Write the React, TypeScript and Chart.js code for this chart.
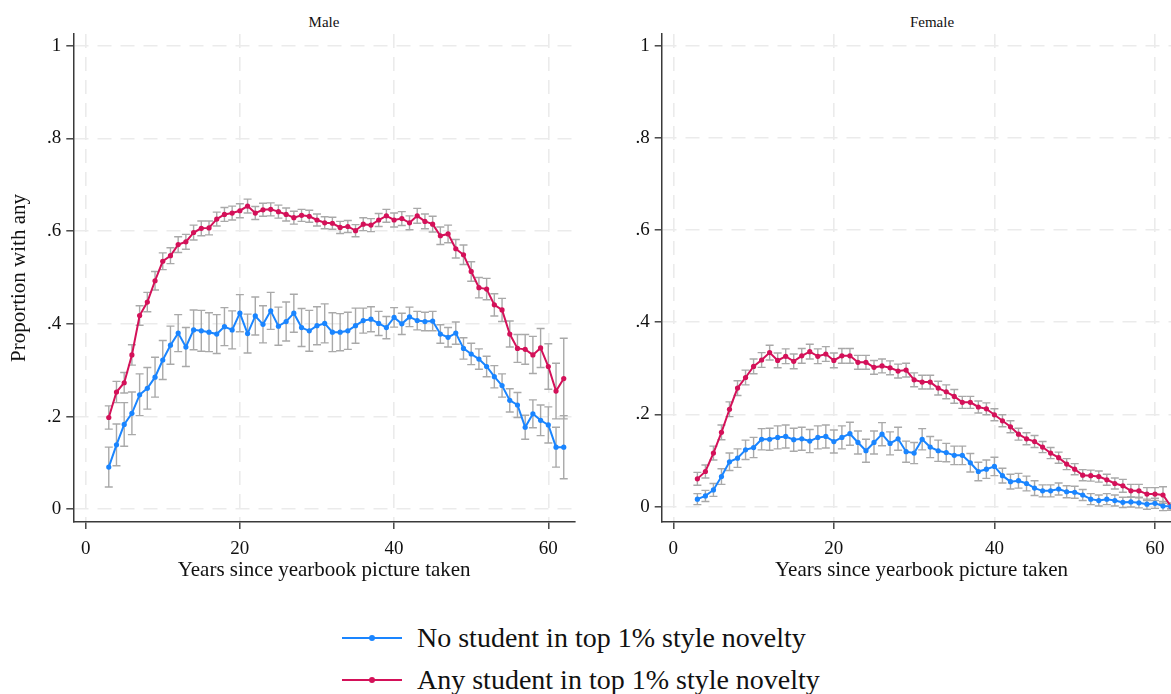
import React, { useEffect, useRef } from "react";
import { Chart, registerables } from "chart.js";

Chart.register(...registerables);

// Years since the yearbook picture was taken (x values shared by both panels)
const years = [
  3, 4, 5, 6, 7, 8, 9, 10, 11, 12, 13, 14, 15, 16, 17, 18, 19, 20, 21, 22,
  23, 24, 25, 26, 27, 28, 29, 30, 31, 32, 33, 34, 35, 36, 37, 38, 39, 40, 41, 42,
  43, 44, 45, 46, 47, 48, 49, 50, 51, 52, 53, 54, 55, 56, 57, 58, 59, 60, 61, 62,
];

// Male: no student in top 1% style novelty
const maleNo = [
  0.091, 0.139, 0.183, 0.207, 0.247, 0.261, 0.285, 0.322, 0.354, 0.38,
  0.35, 0.387, 0.385, 0.382, 0.378, 0.394, 0.387, 0.423, 0.379, 0.417,
  0.399, 0.428, 0.395, 0.405, 0.423, 0.392, 0.385, 0.396, 0.401, 0.382,
  0.382, 0.385, 0.396, 0.407, 0.41, 0.401, 0.392, 0.414, 0.4, 0.415,
  0.407, 0.405, 0.406, 0.378, 0.371, 0.38, 0.347, 0.335, 0.324, 0.308,
  0.286, 0.267, 0.235, 0.225, 0.177, 0.206, 0.192, 0.182, 0.134, 0.134,
];
const maleNoCI = [
  0.043, 0.045, 0.047, 0.046, 0.045, 0.045, 0.043, 0.042, 0.041, 0.04,
  0.042, 0.043, 0.044, 0.042, 0.042, 0.041, 0.041, 0.04, 0.042, 0.041,
  0.04, 0.04, 0.041, 0.042, 0.041, 0.041, 0.044, 0.041, 0.042, 0.042,
  0.04, 0.04, 0.038, 0.027, 0.027, 0.026, 0.024, 0.021, 0.023, 0.021,
  0.02, 0.02, 0.021, 0.02, 0.021, 0.024, 0.023, 0.023, 0.022, 0.022,
  0.024, 0.025, 0.025, 0.027, 0.026, 0.03, 0.033, 0.039, 0.043, 0.068,
];

// Male: any student in top 1% style novelty
const maleAny = [
  0.198, 0.253, 0.273, 0.333, 0.418, 0.447, 0.493, 0.535, 0.547, 0.571,
  0.577, 0.597, 0.606, 0.607, 0.626, 0.636, 0.639, 0.644, 0.654, 0.639,
  0.646, 0.647, 0.642, 0.636, 0.629, 0.634, 0.632, 0.624, 0.618, 0.617,
  0.608, 0.61, 0.601, 0.615, 0.613, 0.624, 0.633, 0.624, 0.627, 0.618,
  0.633, 0.621, 0.615, 0.59, 0.594, 0.562, 0.549, 0.513, 0.478, 0.475,
  0.441, 0.43, 0.378, 0.347, 0.345, 0.333, 0.348, 0.308, 0.255, 0.282,
];
const maleAnyCI = [
  0.025, 0.023, 0.022, 0.022, 0.021, 0.021, 0.02, 0.018, 0.017, 0.017,
  0.016, 0.016, 0.016, 0.015, 0.015, 0.015, 0.015, 0.015, 0.015, 0.014,
  0.014, 0.014, 0.014, 0.014, 0.014, 0.013, 0.013, 0.013, 0.013, 0.013,
  0.013, 0.013, 0.013, 0.014, 0.014, 0.014, 0.014, 0.015, 0.015, 0.015,
  0.016, 0.016, 0.017, 0.019, 0.019, 0.02, 0.021, 0.021, 0.022, 0.023,
  0.024, 0.025, 0.028, 0.03, 0.032, 0.04, 0.042, 0.049, 0.06, 0.087,
];

// Female: no student in top 1% style novelty
const femaleNo = [
  0.016, 0.023, 0.036, 0.065, 0.097, 0.105, 0.123, 0.128, 0.146, 0.146,
  0.15, 0.152, 0.145, 0.147, 0.142, 0.15, 0.152, 0.141, 0.15, 0.158,
  0.139, 0.121, 0.139, 0.157, 0.137, 0.147, 0.119, 0.116, 0.146, 0.129,
  0.121, 0.117, 0.111, 0.111, 0.095, 0.076, 0.081, 0.087, 0.067, 0.054,
  0.056, 0.05, 0.04, 0.034, 0.034, 0.038, 0.032, 0.031, 0.025, 0.016,
  0.013, 0.016, 0.013, 0.009, 0.01, 0.008, 0.005, 0.007, 0.001, 0.0,
];
const femaleNoCI = [
  0.012, 0.012, 0.014, 0.017, 0.019, 0.02, 0.021, 0.022, 0.023, 0.024,
  0.025, 0.025, 0.025, 0.025, 0.025, 0.025, 0.025, 0.025, 0.025, 0.025,
  0.025, 0.025, 0.025, 0.025, 0.025, 0.025, 0.023, 0.023, 0.023, 0.023,
  0.023, 0.02, 0.02, 0.02, 0.02, 0.02, 0.02, 0.02, 0.016, 0.016,
  0.016, 0.016, 0.016, 0.013, 0.013, 0.013, 0.013, 0.013, 0.012, 0.012,
  0.012, 0.012, 0.012, 0.011, 0.011, 0.011, 0.011, 0.011, 0.01, 0.008,
];

// Female: any student in top 1% style novelty
const femaleAny = [
  0.06, 0.076, 0.116, 0.161, 0.211, 0.257, 0.28, 0.304, 0.318, 0.334,
  0.317, 0.326, 0.315, 0.327, 0.336, 0.326, 0.331, 0.317, 0.327, 0.327,
  0.313, 0.313, 0.302, 0.305, 0.301, 0.294, 0.296, 0.275, 0.27, 0.27,
  0.257, 0.249, 0.239, 0.226, 0.226, 0.216, 0.212, 0.199, 0.186, 0.173,
  0.157, 0.147, 0.141, 0.129, 0.116, 0.106, 0.092, 0.081, 0.068, 0.067,
  0.065, 0.058, 0.05, 0.045, 0.034, 0.034, 0.027, 0.027, 0.025, 0.0,
];
const femaleAnyCI = [
  0.014, 0.014, 0.015, 0.016, 0.016, 0.016, 0.016, 0.016, 0.016, 0.016,
  0.016, 0.016, 0.016, 0.016, 0.016, 0.016, 0.016, 0.016, 0.016, 0.016,
  0.015, 0.015, 0.015, 0.015, 0.015, 0.015, 0.015, 0.015, 0.015, 0.015,
  0.015, 0.015, 0.015, 0.013, 0.013, 0.013, 0.013, 0.013, 0.013, 0.013,
  0.013, 0.013, 0.013, 0.012, 0.012, 0.012, 0.012, 0.012, 0.012, 0.012,
  0.012, 0.012, 0.012, 0.014, 0.014, 0.014, 0.014, 0.014, 0.018, 0.005,
];

const xTickValues = [0, 20, 40, 60];
const yTickValues = [0, 0.2, 0.4, 0.6, 0.8, 1];
const yTickLabels = ["0", ".2", ".4", ".6", ".8", "1"];

const seriesNames = [
  "No student in top 1% style novelty",
  "Any student in top 1% style novelty",
];

const BLUE = "#1a85ff";
const RED = "#d41159";
const CAP_GRAY = "#a9a9a9";
const GRID = "#ebebeb";
const AXIS = "#3a3a3a";
const FONT = "'Liberation Serif', 'Times New Roman', serif";

// Confidence-interval caps drawn under the lines, positioned through the chart scales
const errorBarPlugin = {
  id: "errorBars",
  beforeDatasetsDraw(chart: any) {
    const { ctx, chartArea } = chart;
    const xs = chart.scales.x;
    const ys = chart.scales.y;
    ctx.save();
    ctx.beginPath();
    ctx.rect(chartArea.left, chartArea.top - 20, chartArea.right - chartArea.left, chartArea.bottom - chartArea.top + 20);
    ctx.clip();
    ctx.strokeStyle = CAP_GRAY;
    ctx.lineWidth = 1.4;
    const cap = 4;
    chart.data.datasets.forEach((ds: any) => {
      ds.data.forEach((pt: any, i: number) => {
        const half = ds.ci[i];
        const px = xs.getPixelForValue(pt.x);
        const lo = ys.getPixelForValue(pt.y - half);
        const hi = ys.getPixelForValue(pt.y + half);
        ctx.beginPath();
        ctx.moveTo(px, lo);
        ctx.lineTo(px, hi);
        ctx.moveTo(px - cap, lo);
        ctx.lineTo(px + cap, lo);
        ctx.moveTo(px - cap, hi);
        ctx.lineTo(px + cap, hi);
        ctx.stroke();
      });
    });
    ctx.restore();
  },
};

type PanelProps = {
  left: number;
  width: number;
  height: number;
  xMin: number;
  xMax: number;
  yMin: number;
  yMax: number;
  yAxisWidth: number;
  padRight: number;
  padTop: number;
  xAxisHeight: number;
  showYTitle: boolean;
  no: number[];
  noCI: number[];
  any: number[];
  anyCI: number[];
};

function Panel(p: PanelProps) {
  const ref = useRef<HTMLCanvasElement | null>(null);

  useEffect(() => {
    if (!ref.current) return;
    const makeSet = (label: string, vals: number[], ci: number[], color: string) => ({
      label,
      data: years.map((yr, i) => ({ x: yr, y: vals[i] })),
      ci,
      borderColor: color,
      backgroundColor: color,
      borderWidth: 2,
      pointRadius: 2.6,
      pointBorderWidth: 0,
      pointBackgroundColor: color,
      tension: 0,
    });

    const chart = new Chart(ref.current, {
      type: "line",
      data: {
        datasets: [
          makeSet(seriesNames[0], p.no, p.noCI, BLUE),
          makeSet(seriesNames[1], p.any, p.anyCI, RED),
        ] as any,
      },
      options: {
        animation: false,
        responsive: false,
        devicePixelRatio: 1,
        layout: { padding: { left: 0, right: p.padRight, top: p.padTop, bottom: 0 } },
        plugins: {
          legend: { display: false },
          tooltip: { enabled: false },
        },
        scales: {
          x: {
            type: "linear",
            min: p.xMin,
            max: p.xMax,
            afterBuildTicks: (s: any) => {
              s.ticks = xTickValues.map((v) => ({ value: v }));
            },
            afterFit: (s: any) => {
              s.height = p.xAxisHeight;
            },
            ticks: {
              color: "#111",
              font: { family: FONT, size: 19 },
              padding: 9,
              maxRotation: 0,
              callback: (v: any) => String(v),
            },
            grid: {
              color: GRID,
              lineWidth: 1.6,
              tickColor: AXIS,
              tickLength: 7,
              tickWidth: 1.4,
              tickBorderDash: [],
            },
            border: { display: true, color: AXIS, width: 1.5, dash: [14, 9] },
            title: {
              display: true,
              text: "Years since yearbook picture taken",
              color: "#111",
              font: { family: FONT, size: 21 },
              padding: { top: 0, bottom: 2 },
            },
          },
          y: {
            type: "linear",
            min: p.yMin,
            max: p.yMax,
            afterBuildTicks: (s: any) => {
              s.ticks = yTickValues.map((v) => ({ value: v }));
            },
            afterFit: (s: any) => {
              s.width = p.yAxisWidth;
            },
            ticks: {
              color: "#111",
              font: { family: FONT, size: 19 },
              padding: 5,
              callback: (v: any) => {
                const k = yTickValues.findIndex((t) => Math.abs(t - v) < 1e-9);
                return k >= 0 ? yTickLabels[k] : "";
              },
            },
            grid: {
              color: GRID,
              lineWidth: 1.6,
              tickColor: AXIS,
              tickLength: 7,
              tickWidth: 1.4,
              tickBorderDash: [],
            },
            border: { display: true, color: AXIS, width: 1.5, dash: [14, 9] },
            title: {
              display: p.showYTitle,
              text: "Proportion with any",
              color: "#111",
              font: { family: FONT, size: 21 },
              padding: { top: 7, bottom: 0 },
            },
          },
        },
      },
      plugins: [errorBarPlugin],
    } as any);

    return () => chart.destroy();
  }, []);

  return (
    <canvas
      ref={ref}
      width={p.width}
      height={p.height}
      style={{ position: "absolute", left: p.left, top: 0, width: p.width, height: p.height }}
    />
  );
}

function LegendRow({ top, color, text }: { top: number; color: string; text: string }) {
  return (
    <div style={{ position: "absolute", left: 342, top, height: 32, display: "flex", alignItems: "center" }}>
      <div style={{ position: "relative", width: 60, height: 32 }}>
        <div style={{ position: "absolute", left: 0, top: 15, width: 60, height: 2, background: color }} />
        <div
          style={{
            position: "absolute",
            left: 27,
            top: 13,
            width: 6,
            height: 6,
            borderRadius: 3,
            background: color,
          }}
        />
      </div>
      <span style={{ marginLeft: 15, fontFamily: FONT, fontSize: 28, color: "#111", whiteSpace: "nowrap", lineHeight: "32px" }}>
        {text}
      </span>
    </div>
  );
}

export default function App() {
  useEffect(() => {
    document.body.style.margin = "0";
    document.body.style.background = "#ffffff";
  }, []);

  const titleStyle = (center: number): React.CSSProperties => ({
    position: "absolute",
    left: center - 60,
    width: 120,
    top: 13,
    textAlign: "center",
    fontFamily: FONT,
    fontSize: 15,
    lineHeight: "18px",
    color: "#111",
  });

  return (
    <div style={{ position: "relative", width: 1171, height: 694, overflow: "hidden", background: "#fff" }}>
      <div style={titleStyle(324)}>Male</div>
      <div style={titleStyle(932)}>Female</div>
      <Panel
        left={0}
        width={590}
        height={585}
        xMin={-1.6}
        xMax={63.46}
        yMin={-0.0274}
        yMax={1.0252}
        yAxisWidth={73.3}
        padRight={15}
        padTop={34}
        xAxisHeight={63}
        showYTitle={true}
        no={maleNo}
        noCI={maleNoCI}
        any={maleAny}
        anyCI={maleAnyCI}
      />
      <Panel
        left={590}
        width={600}
        height={585}
        xMin={-1.445}
        xMax={63.28}
        yMin={-0.0336}
        yMax={1.0254}
        yAxisWidth={71.7}
        padRight={8.7}
        padTop={34}
        xAxisHeight={63}
        showYTitle={false}
        no={femaleNo}
        noCI={femaleNoCI}
        any={femaleAny}
        anyCI={femaleAnyCI}
      />
      <LegendRow top={622} color={BLUE} text={seriesNames[0]} />
      <LegendRow top={664} color={RED} text={seriesNames[1]} />
    </div>
  );
}
